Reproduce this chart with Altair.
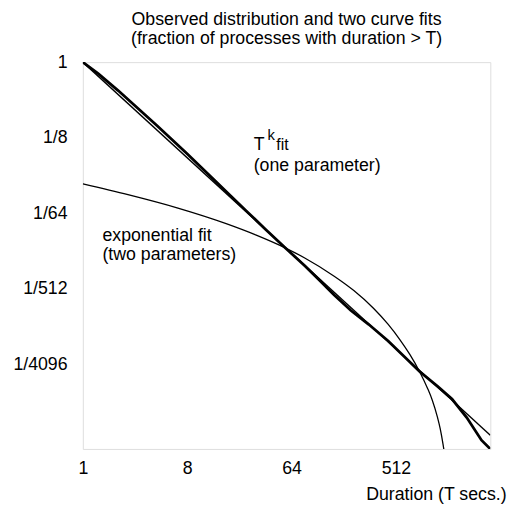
import altair as alt
import pandas as pd

# ---- data ----
obs_T = [1, 1.367, 2.022, 2.99, 4.42, 7.95, 14.3, 25.7, 38.0, 56.3, 83.2, 111.6,
         149.6, 208.7, 296.7, 438.8, 820, 1167, 1564, 2098, 2814, 3355]
obs_frac = [1.0, 0.723, 0.457, 0.281, 0.173, 0.0810, 0.0371, 0.01696, 0.01011,
            0.00608, 0.00369, 0.00249, 0.00166, 0.00108, 0.000739, 0.000467,
            0.000202, 0.000135, 9.46e-5, 5.69e-5, 3.05e-5, 2.40e-5]

tk_T = [1, 3355]
tk_frac = [1.0, 3.50e-5]

exp_T = [1, 2.459, 6.54, 17.39, 31.28, 56.25, 83.2, 149.6, 221.2, 327.1, 438.8,
         555, 674.8, 820.4, 959.4, 1058, 1166.8, 1237.5, 1311.8, 1364.5]
exp_frac = [0.03515, 0.02610, 0.01817, 0.01177, 0.008646, 0.006056, 0.004584,
            0.002778, 0.001872, 0.001151, 0.000737, 0.000483, 0.000323,
            0.000201, 0.0001278, 9.11e-5, 5.84e-5, 4.16e-5, 2.67e-5, 1.88e-5]

x_ticks = [1, 8, 64, 512]
y_ticks = [1, 1 / 8, 1 / 64, 1 / 512, 1 / 4096]
y_tick_labels = ["1", "1/8", "1/64", "1/512", "1/4096"]

x_domain = [1, 3355]
y_domain = [2.40e-5, 1]

# annotation anchors (data coordinates, text baselines)
ann_big_text = ["T", "(one parameter)", "exponential fit", "(two parameters)"]
ann_big_T = [30.1, 30.1, 1.479, 1.479]
ann_big_frac = [0.0892, 0.0500, 0.00734, 0.00428]
ann_sup_text = ["k"]
ann_sup_T = [39.6]
ann_sup_frac = [0.1184]
ann_fit_text = ["fit"]
ann_fit_T = [47.2]
ann_fit_frac = [0.0892]

FONT = "Liberation Sans"

# ---- build ----
obs = pd.DataFrame({"T": obs_T, "frac": obs_frac})
tk = pd.DataFrame({"T": tk_T, "frac": tk_frac})
ex = pd.DataFrame({"T": exp_T, "frac": exp_frac})

# label expression built from the tick label list
expr = "''"
for v, lab in reversed(list(zip(y_ticks, y_tick_labels))):
    expr = f"abs(log(datum.value) - log({v})) < 0.01 ? '{lab}' : ({expr})"

xs = alt.Scale(type="log", domain=x_domain, nice=False)
ys = alt.Scale(type="log", domain=y_domain, nice=False)

x_axis = alt.Axis(
    values=x_ticks, format="d", title="Duration (T secs.)", grid=False,
    ticks=False, domain=False, labelFont=FONT, labelFontSize=18,
    labelColor="black", labelPadding=11, titleFont=FONT, titleFontSize=18,
    titleFontWeight="normal", titleColor="black", titleAnchor="end",
    titleAlign="right", titleX=430, titleY=46, titleBaseline="middle",
    labelFlush=False,
)
y_axis = alt.Axis(
    values=y_ticks, labelExpr=expr, title=None, grid=False, ticks=False,
    domain=False, labelFont=FONT, labelFontSize=18, labelColor="black",
    labelPadding=16, labelFlush=False,
)

base_x = alt.X("T:Q", scale=xs, axis=x_axis)
base_y = alt.Y("frac:Q", scale=ys, axis=y_axis)

exp_line = alt.Chart(ex).mark_line(
    color="black", strokeWidth=1.3, clip=True, interpolate="monotone"
).encode(x=base_x, y=base_y, order="T:Q")
tk_line = alt.Chart(tk).mark_line(color="black", strokeWidth=1.4, clip=True).encode(
    x=alt.X("T:Q", scale=xs), y=alt.Y("frac:Q", scale=ys), order="T:Q")
obs_line = alt.Chart(obs).mark_line(color="black", strokeWidth=2.8, clip=True).encode(
    x=alt.X("T:Q", scale=xs), y=alt.Y("frac:Q", scale=ys), order="T:Q")

big = pd.DataFrame({"T": ann_big_T, "frac": ann_big_frac, "t": ann_big_text})
sup = pd.DataFrame({"T": ann_sup_T, "frac": ann_sup_frac, "t": ann_sup_text})
fit = pd.DataFrame({"T": ann_fit_T, "frac": ann_fit_frac, "t": ann_fit_text})


def txt(df, size):
    return alt.Chart(df).mark_text(
        align="left", baseline="alphabetic", font=FONT, fontSize=size, color="black"
    ).encode(x=alt.X("T:Q", scale=xs), y=alt.Y("frac:Q", scale=ys), text="t:N")


chart = alt.layer(
    exp_line, tk_line, obs_line, txt(big, 18), txt(sup, 15), txt(fit, 16)
).properties(
    width=414, height=393,
    title=alt.TitleParams(
        text=["Observed distribution and two curve fits",
              "(fraction of processes with duration > T)"],
        font=FONT, fontSize=18, fontWeight="normal", color="black",
        anchor="middle", offset=5, lineHeight=20,
    ),
    autosize="none",
    padding={"left": 76, "top": 51, "right": 20, "bottom": 56},
).configure_view(stroke="black", strokeWidth=1.5).configure(background="white")

chart.save("out.html", embed_options={"renderer": "svg", "actions": False})
